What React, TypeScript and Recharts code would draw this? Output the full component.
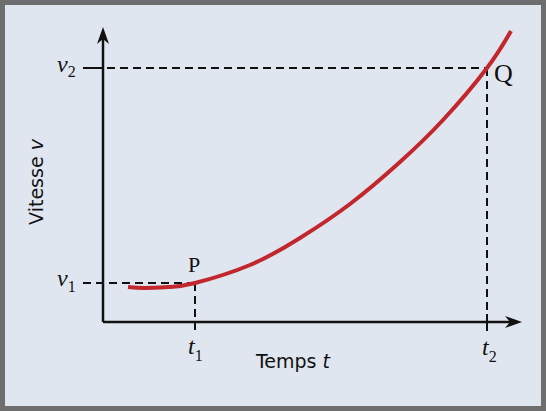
import React from 'react';
import { LineChart, Line, XAxis, YAxis, ReferenceLine, ReferenceDot } from 'recharts';

// Time (t) and speed (v) readings of the curve, in chart units
const tValues = [25, 42, 67, 92, 147, 197, 247, 297, 340, 384, 408];
const vValues = [35, 34, 35, 39, 57, 84, 118, 160, 202, 254, 291];

// Marked instants / speeds
const t1 = 92;
const t2 = 384;
const v1 = 39;
const v2 = 254;

const tMax = 419;
const vMax = 295;

const data = tValues.map((t, i) => ({ t, v: vValues[i] }));

const INK = '#111111';
const CURVE = '#c1272d';
const SERIF = '"Liberation Serif", "Times New Roman", serif';
const SANS = '"DejaVu Sans", sans-serif';
const DASH = '8 5';

const ArrowRight = (p: any) => {
  const { cx, cy } = p;
  return (
    <path
      d={`M${cx},${cy} L${cx - 17},${cy - 6} L${cx - 12},${cy} L${cx - 17},${cy + 6} Z`}
      fill={INK}
    />
  );
};

const ArrowUp = (p: any) => {
  const { cx, cy } = p;
  return (
    <path
      d={`M${cx},${cy} L${cx - 6},${cy + 17} L${cx},${cy + 12} L${cx + 6},${cy + 17} Z`}
      fill={INK}
    />
  );
};

const subLabel = (main: string, sub: string, dx: number, dy: number, subDy: number) => (p: any) => (
  <text x={p.cx + dx} y={p.cy + dy} fontFamily={SERIF} fill={INK}>
    <tspan fontStyle="italic" fontSize={24}>{main}</tspan>
    <tspan fontSize={16} dy={subDy}>{sub}</tspan>
  </text>
);

const plainLabel = (txt: string, dx: number, dy: number, size: number) => (p: any) => (
  <text x={p.cx + dx} y={p.cy + dy} fontFamily={SERIF} fontSize={size} fill={INK}>
    {txt}
  </text>
);

const TimeTitle = (p: any) => (
  <text x={p.cx} y={p.cy + 46} fontFamily={SANS} fontSize={19} fill={INK} textAnchor="middle">
    Temps <tspan fontStyle="italic">t</tspan>
  </text>
);

const SpeedTitle = (p: any) => {
  const x = p.cx - 60;
  const y = p.cy;
  return (
    <text
      x={x}
      y={y}
      fontFamily={SANS}
      fontSize={19}
      fill={INK}
      textAnchor="middle"
      transform={`rotate(-90, ${x}, ${y})`}
    >
      Vitesse <tspan fontStyle="italic">v</tspan>
    </text>
  );
};

export default function App() {
  return (
    <div
      style={{
        position: 'absolute',
        left: 0,
        top: 0,
        width: 546,
        height: 411,
        background: '#e0e6ef',
        boxShadow: 'inset 0 0 0 5px #6e6e6e',
      }}
    >
      <LineChart
        width={546}
        height={411}
        data={data}
        margin={{ top: 27, right: 24, bottom: 89, left: 103 }}
      >
        <XAxis type="number" dataKey="t" domain={[0, tMax]} hide />
        <YAxis type="number" domain={[0, vMax]} hide />

        {/* axes */}
        <ReferenceLine segment={[{ x: 0, y: 0 }, { x: tMax - 10, y: 0 }]} stroke={INK} strokeWidth={2.5} ifOverflow="visible" />
        <ReferenceLine segment={[{ x: 0, y: 0 }, { x: 0, y: vMax - 10 }]} stroke={INK} strokeWidth={2.5} ifOverflow="visible" />
        <ReferenceDot x={tMax} y={0} ifOverflow="visible" shape={ArrowRight} />
        <ReferenceDot x={0} y={vMax} ifOverflow="visible" shape={ArrowUp} />

        {/* guide lines */}
        <ReferenceLine segment={[{ x: -20, y: v1 }, { x: t1, y: v1 }]} stroke={INK} strokeWidth={2} strokeDasharray={DASH} ifOverflow="visible" />
        <ReferenceLine segment={[{ x: -20, y: v2 }, { x: 0, y: v2 }]} stroke={INK} strokeWidth={2} ifOverflow="visible" />
        <ReferenceLine segment={[{ x: 4, y: v2 }, { x: t2, y: v2 }]} stroke={INK} strokeWidth={2} strokeDasharray={DASH} ifOverflow="visible" />
        <ReferenceLine segment={[{ x: t1, y: v1 }, { x: t1, y: -11 }]} stroke={INK} strokeWidth={2} strokeDasharray={DASH} ifOverflow="visible" />
        <ReferenceLine segment={[{ x: t2, y: v2 }, { x: t2, y: -9 }]} stroke={INK} strokeWidth={2} strokeDasharray={DASH} ifOverflow="visible" />
        <ReferenceLine segment={[{ x: t2, y: 8 }, { x: t2, y: -6 }]} stroke={INK} strokeWidth={2} ifOverflow="visible" />

        <Line
          type="natural"
          dataKey="v"
          stroke={CURVE}
          strokeWidth={4}
          dot={false}
          activeDot={false}
          isAnimationActive={false}
        />

        {/* labels */}
        <ReferenceDot x={0} y={v1} ifOverflow="visible" shape={subLabel('v', '1', -46, 3, 6)} />
        <ReferenceDot x={0} y={v2} ifOverflow="visible" shape={subLabel('v', '2', -46, 4, 5)} />
        <ReferenceDot x={t1} y={0} ifOverflow="visible" shape={subLabel('t', '1', -7, 32, 7)} />
        <ReferenceDot x={t2} y={0} ifOverflow="visible" shape={subLabel('t', '2', -5, 33, 7)} />
        <ReferenceDot x={t1} y={v1} ifOverflow="visible" shape={plainLabel('P', -7, -11, 22)} />
        <ReferenceDot x={t2} y={v2} ifOverflow="visible" shape={plainLabel('Q', 7, 14, 26)} />
        <ReferenceDot x={190} y={0} ifOverflow="visible" shape={TimeTitle} />
        <ReferenceDot x={0} y={140} ifOverflow="visible" shape={SpeedTitle} />
      </LineChart>
    </div>
  );
}
